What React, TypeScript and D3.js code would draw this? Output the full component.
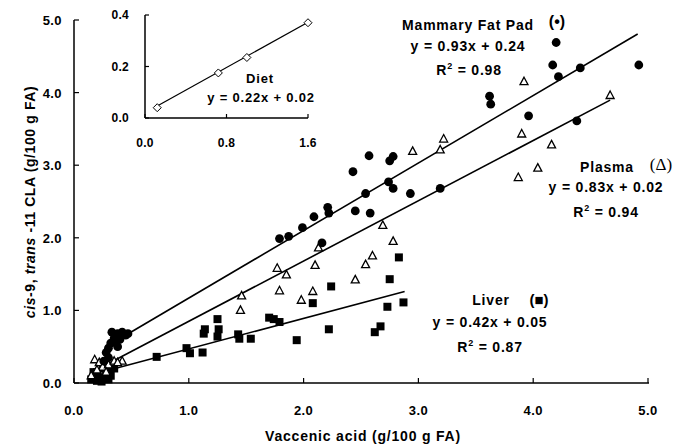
import React from 'react';
import * as d3 from 'd3';

// Mammary fat pad (filled circles)
const mfpX = [0.30, 0.32, 0.35, 0.38, 0.33, 0.40, 0.42, 0.45, 0.36, 0.28, 0.30, 0.26, 0.40, 0.47, 0.38,
  1.79, 1.87, 1.99, 2.16, 2.09, 2.21, 2.22, 2.45, 2.58, 2.43, 2.54, 2.57, 2.75, 2.78, 2.74, 2.78, 2.93,
  3.19, 3.62, 3.63, 3.96, 4.38, 4.17, 4.22, 4.41, 4.20, 4.92];
const mfpY = [0.48, 0.55, 0.62, 0.68, 0.70, 0.65, 0.70, 0.66, 0.58, 0.42, 0.35, 0.30, 0.60, 0.68, 0.50,
  1.99, 2.02, 2.14, 1.93, 2.29, 2.42, 2.34, 2.37, 2.34, 2.91, 2.61, 3.13, 3.06, 3.12, 2.77, 2.68, 2.61,
  2.68, 3.95, 3.84, 3.68, 3.61, 4.38, 4.22, 4.34, 4.69, 4.38];

// Plasma (open triangles)
const plasmaX = [0.18, 0.22, 0.25, 0.42, 0.30, 0.35, 0.20, 0.28, 0.15, 0.38,
  1.45, 1.46, 1.77, 1.79, 1.85, 1.98, 2.08, 2.10, 2.13, 2.45, 2.54, 2.60, 2.78, 2.69, 2.95,
  3.19, 3.22, 3.87, 4.04, 4.16, 3.90, 3.92, 4.67];
const plasmaY = [0.32, 0.28, 0.22, 0.30, 0.25, 0.30, 0.18, 0.15, 0.10, 0.28,
  1.00, 1.20, 1.58, 1.27, 1.49, 1.14, 1.26, 1.62, 1.86, 1.42, 1.63, 1.75, 1.95, 2.17, 3.19,
  3.21, 3.36, 2.83, 2.96, 3.28, 3.43, 4.15, 3.96];

// Liver (filled squares)
const liverX = [0.15, 0.18, 0.20, 0.22, 0.25, 0.28, 0.30, 0.24, 0.17, 0.32, 0.26, 0.20, 0.35, 0.30,
  0.72, 0.98, 1.01, 1.12, 1.13, 1.14, 1.25, 1.26, 1.25, 1.43, 1.44, 1.54, 1.70, 1.74, 1.79, 1.94,
  2.08, 2.24, 2.22, 2.62, 2.67, 2.73, 2.87, 2.75, 2.83];
const liverY = [0.05, 0.10, 0.15, 0.08, 0.20, 0.12, 0.18, 0.02, 0.15, 0.10, 0.26, 0.03, 0.20, 0.05,
  0.36, 0.48, 0.41, 0.42, 0.68, 0.74, 0.88, 0.74, 0.64, 0.67, 0.61, 0.61, 0.90, 0.88, 0.84, 0.59,
  1.10, 1.33, 0.74, 0.70, 0.78, 1.05, 1.11, 1.43, 1.73];

// Diet inset (open diamonds)
const dietX = [0.12, 0.72, 1.0, 1.6];
const dietY = [0.04, 0.175, 0.235, 0.37];

// fitted lines: slope, intercept, x range
const fits = [
  { slope: 0.93, icpt: 0.24, from: 0.35, to: 4.91 },
  { slope: 0.83, icpt: 0.02, from: 0.3, to: 4.67 },
  { slope: 0.42, icpt: 0.05, from: 0.3, to: 2.88 },
];
const dietFit = { slope: 0.22, icpt: 0.02, from: 0.12, to: 1.6 };

const mainTicks = [0, 1, 2, 3, 4, 5];
const insetXTicks = [0, 0.8, 1.6];
const insetYTicks = [0, 0.2, 0.4];

const font = "'Liberation Sans', Arial, sans-serif";

function Label({ x, y, size = 14, children }: { x: number; y: number; size?: number; children: React.ReactNode }) {
  return (
    <text x={x} y={y} textAnchor="middle" fontWeight="bold" fontSize={size} letterSpacing={0.8}>{children}</text>
  );
}

function R2({ x, y, val }: { x: number; y: number; val: string }) {
  return (
    <Label x={x} y={y}>
      R<tspan fontSize={9} dy={-6}>2</tspan><tspan dy={6}> = {val}</tspan>
    </Label>
  );
}

export default function App() {
  const x = d3.scaleLinear().domain([0, 5]).range([74, 648]);
  const y = d3.scaleLinear().domain([0, 5]).range([383, 20]);
  const ix = d3.scaleLinear().domain([0, 1.6]).range([145, 308]);
  const iy = d3.scaleLinear().domain([0, 0.4]).range([118, 15]);
  const line = d3.line<number[]>().x(d => x(d[0])).y(d => y(d[1]));
  const iline = d3.line<number[]>().x(d => ix(d[0])).y(d => iy(d[1]));
  const fmt = d3.format('.1f');

  return (
    <svg width={687} height={446} style={{ position: 'absolute', left: 0, top: 0, background: '#fff' }}
      fontFamily={font}>
      <rect width={687} height={446} fill="#fff" />

      {/* main axes */}
      <line x1={x(0)} x2={x(0)} y1={y(5)} y2={y(0)} stroke="#000" strokeWidth={1.5} />
      <line x1={x(0)} x2={x(5) + 1} y1={y(0)} y2={y(0)} stroke="#000" strokeWidth={1.5} />
      {mainTicks.map(t => (
        <g key={'t' + t}>
          <line x1={x(t)} x2={x(t)} y1={y(0)} y2={y(0) - 5} stroke="#000" strokeWidth={1.2} />
          <line x1={x(0)} x2={x(0) + 5} y1={y(t)} y2={y(t)} stroke="#000" strokeWidth={1.2} />
          <text x={x(t)} y={y(0) + 32} textAnchor="middle" fontWeight="bold" fontSize={13} letterSpacing={0.4}>{fmt(t)}</text>
          <text x={x(0) - 12} y={y(t) + 5} textAnchor="end" fontWeight="bold" fontSize={13} letterSpacing={0.4}>{fmt(t)}</text>
        </g>
      ))}
      <Label x={363} y={441}>Vaccenic acid (g/100 g FA)</Label>
      <text transform="translate(35,202) rotate(-90)" textAnchor="middle" fontWeight="bold" fontSize={14} letterSpacing={0.6}>
        <tspan fontStyle="italic">cis</tspan>-9, <tspan fontStyle="italic">trans</tspan> -11 CLA (g/100 g FA)
      </text>

      {/* regression lines */}
      {fits.map((f, i) => (
        <path key={'f' + i} d={line([[f.from, f.slope * f.from + f.icpt], [f.to, f.slope * f.to + f.icpt]]) || ''}
          stroke="#000" strokeWidth={1.6} fill="none" />
      ))}

      {/* liver squares */}
      {liverX.map((v, i) => (
        <rect key={'l' + i} x={x(v) - 4} y={y(liverY[i]) - 4} width={8} height={8} fill="#000" />
      ))}
      {/* plasma triangles */}
      {plasmaX.map((v, i) => {
        const cx = x(v), cy = y(plasmaY[i]);
        return <path key={'p' + i} d={`M${cx},${cy - 4.5}L${cx + 4},${cy + 3}L${cx - 4},${cy + 3}Z`}
          fill="#fff" stroke="#000" strokeWidth={1.3} />;
      })}
      {/* mammary circles */}
      {mfpX.map((v, i) => (
        <circle key={'m' + i} cx={x(v)} cy={y(mfpY[i])} r={4.4} fill="#000" />
      ))}

      {/* annotations */}
      <Label x={468} y={30}>Mammary Fat Pad</Label>
      <text x={557} y={27} textAnchor="middle" fontWeight="bold" fontSize={16}>(•)</text>
      <Label x={468} y={51}>y = 0.93x + 0.24</Label>
      <R2 x={469} y={75} val="0.98" />

      <Label x={607} y={172}>Plasma</Label>
      <text x={661} y={170} textAnchor="middle" fontSize={17} fontFamily="'Liberation Serif', serif">(Δ)</text>
      <Label x={606} y={192}>y = 0.83x + 0.02</Label>
      <R2 x={606} y={217} val="0.94" />

      <Label x={491} y={305}>Liver</Label>
      <text x={539} y={305} textAnchor="middle" fontWeight="bold" fontSize={15}>(■)</text>
      <Label x={490} y={327}>y = 0.42x + 0.05</Label>
      <R2 x={490} y={352} val="0.87" />

      {/* inset */}
      <line x1={ix(0)} x2={ix(0)} y1={iy(0.4)} y2={iy(0)} stroke="#000" strokeWidth={1.5} />
      <line x1={ix(0)} x2={ix(1.6)} y1={iy(0)} y2={iy(0)} stroke="#000" strokeWidth={1.5} />
      {insetXTicks.map(t => (
        <g key={'ix' + t}>
          <line x1={ix(t)} x2={ix(t)} y1={iy(0)} y2={iy(0) - 4} stroke="#000" strokeWidth={1.2} />
          <text x={ix(t)} y={147} textAnchor="middle" fontWeight="bold" fontSize={12} letterSpacing={0.3}>{fmt(t)}</text>
        </g>
      ))}
      {insetYTicks.map(t => (
        <g key={'iy' + t}>
          <line x1={ix(0)} x2={ix(0) + 4} y1={iy(t)} y2={iy(t)} stroke="#000" strokeWidth={1.2} />
          <text x={ix(0) - 16} y={iy(t) + 4} textAnchor="end" fontWeight="bold" fontSize={12} letterSpacing={0.3}>{fmt(t)}</text>
        </g>
      ))}
      <path d={iline([[dietFit.from, dietFit.slope * dietFit.from + dietFit.icpt], [dietFit.to, dietFit.slope * dietFit.to + dietFit.icpt]]) || ''}
        stroke="#000" strokeWidth={1.3} fill="none" />
      {dietX.map((v, i) => {
        const cx = ix(v), cy = iy(dietY[i]);
        return <path key={'d' + i} d={`M${cx},${cy - 4}L${cx + 4},${cy}L${cx},${cy + 4}L${cx - 4},${cy}Z`}
          fill="#fff" stroke="#000" strokeWidth={1} />;
      })}
      <Label x={260} y={83} size={13}>Diet</Label>
      <Label x={261} y={102} size={13}>y = 0.22x + 0.02</Label>
    </svg>
  );
}
